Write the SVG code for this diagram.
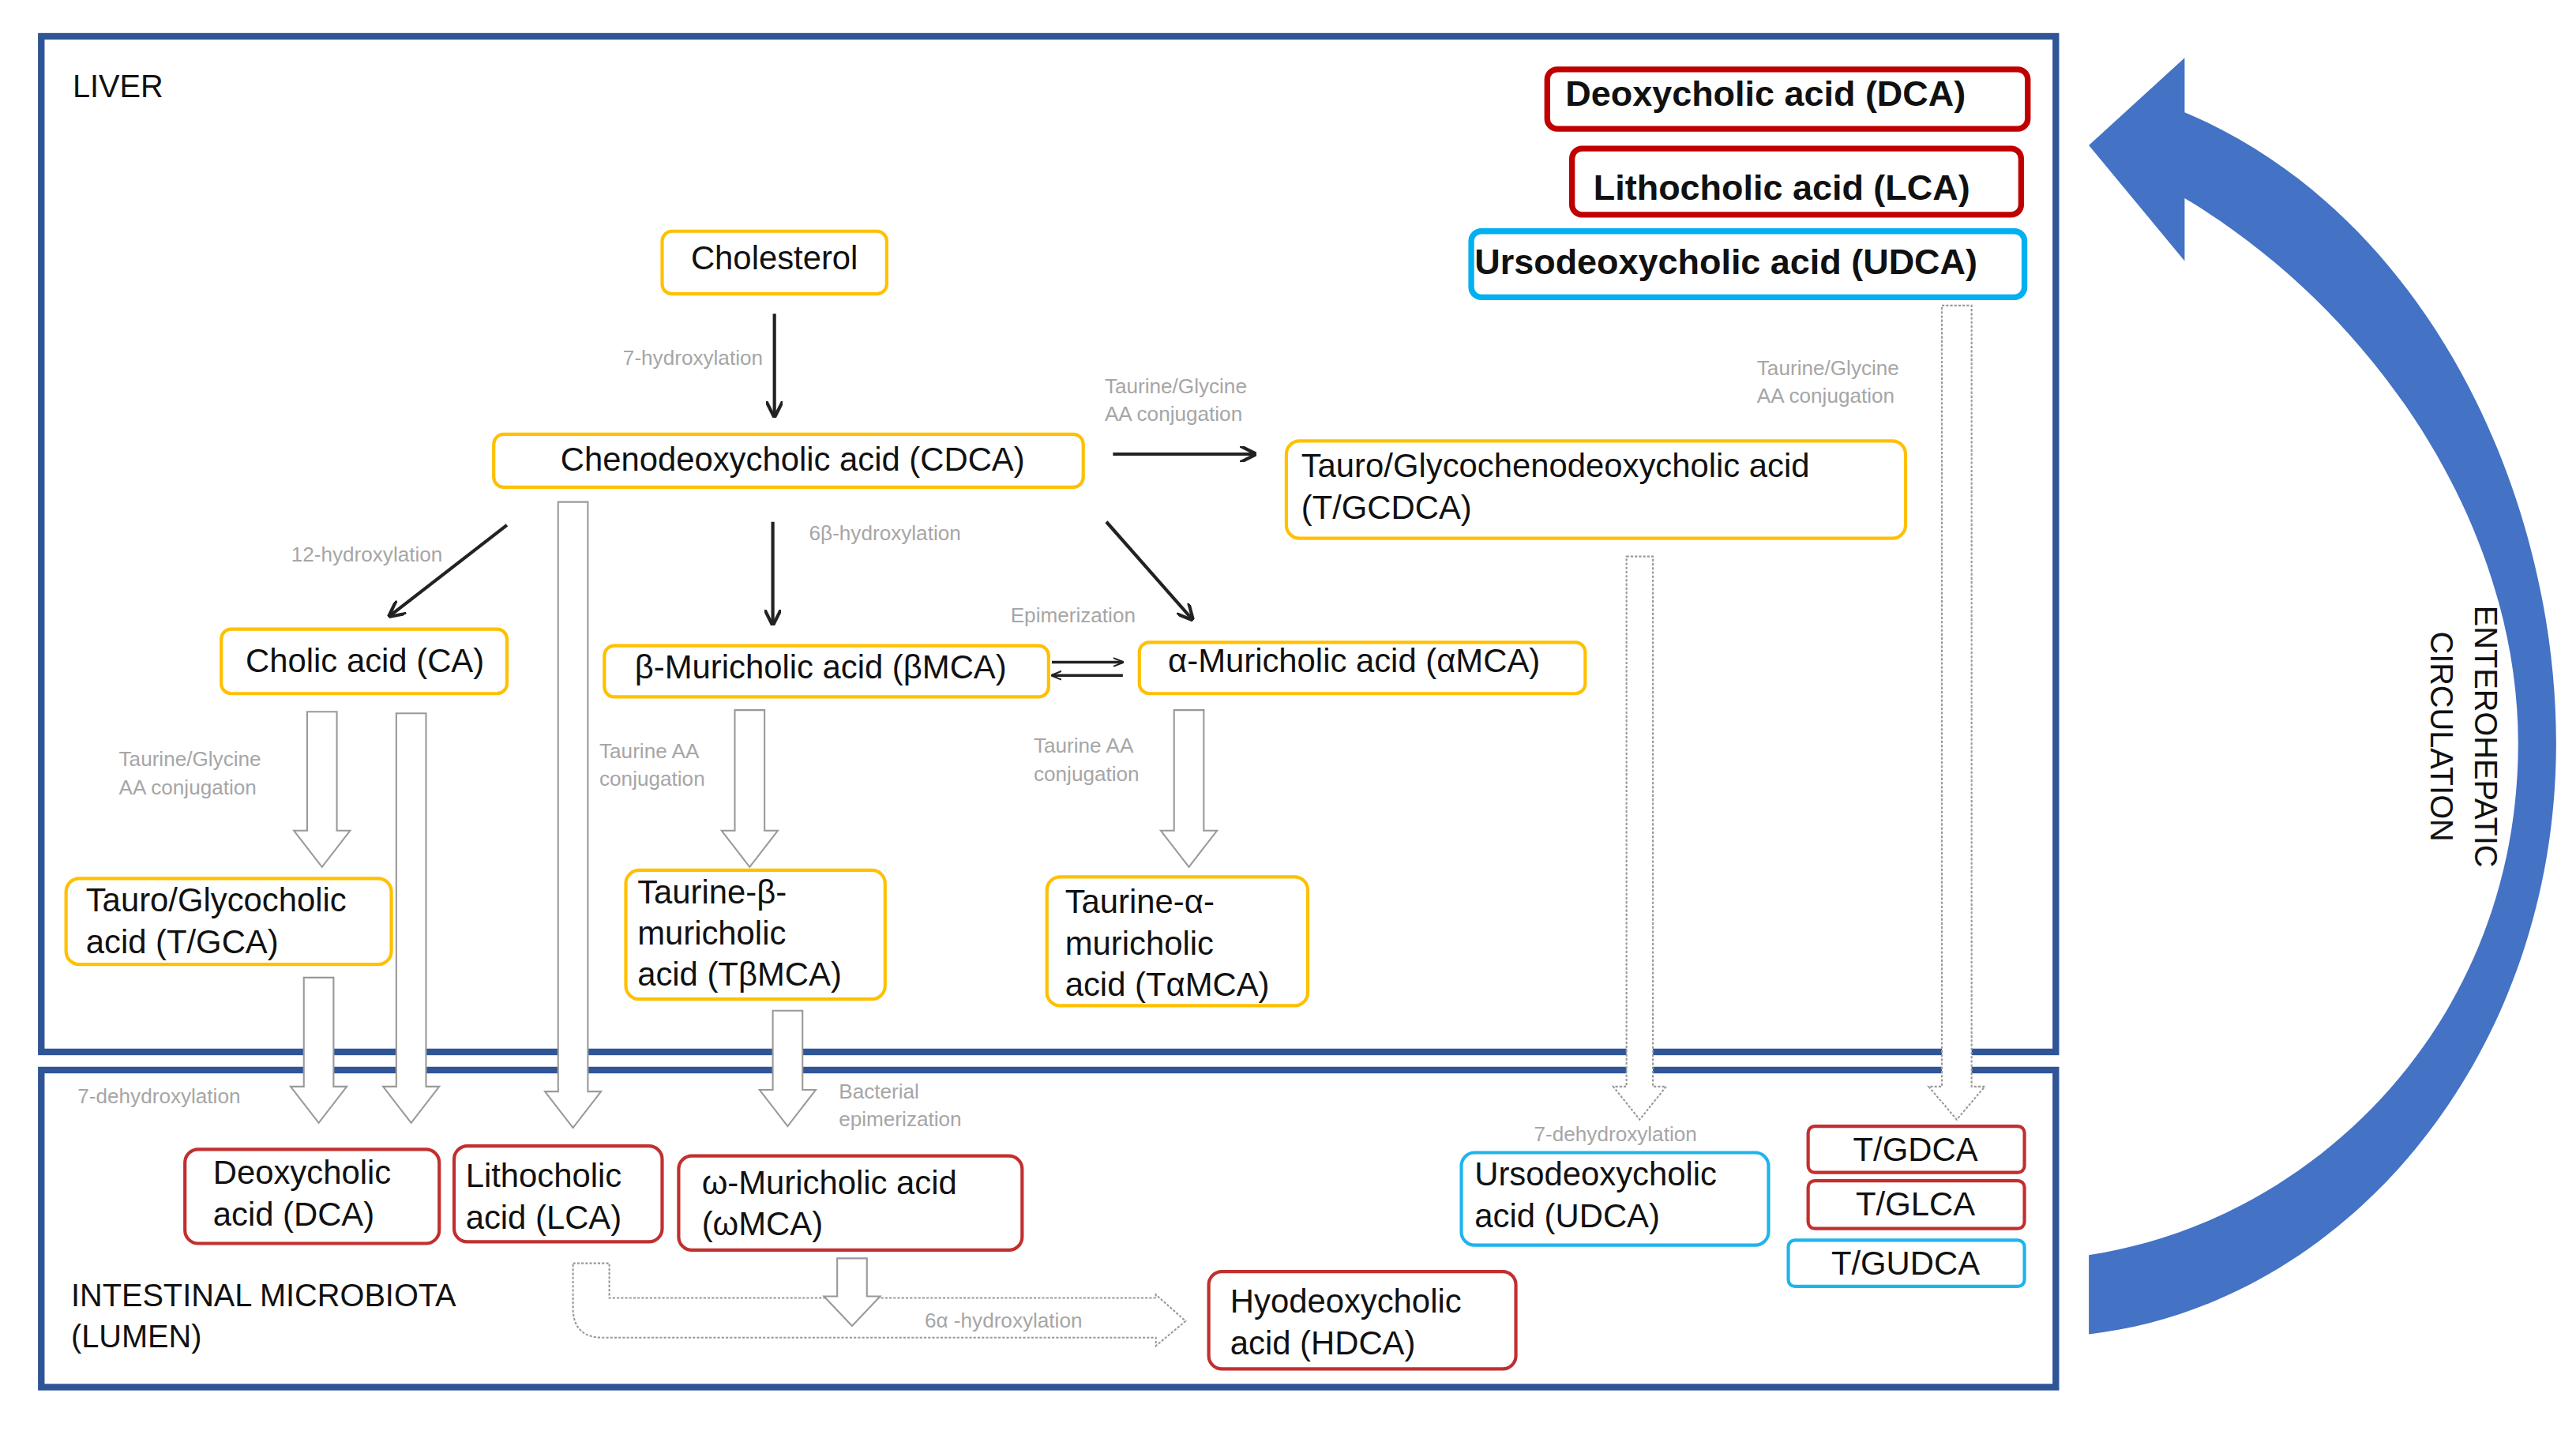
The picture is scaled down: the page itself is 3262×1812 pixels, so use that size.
<svg xmlns="http://www.w3.org/2000/svg" width="3262" height="1812" viewBox="0 0 3262 1812">
<style>
text{font-family:"Liberation Sans",Arial,sans-serif;fill:#111}
.n{font-size:20px}
.b{font-size:21.5px;font-weight:bold}
.l{font-size:12.5px;fill:#A6A6A6}
.y{fill:#fff;stroke:#FFC000;stroke-width:2}
.r{fill:#fff;stroke:#C0302F;stroke-width:2}
.c{fill:#fff;stroke:#1EB4EC;stroke-width:2}
.rb{fill:#fff;stroke:#C00000;stroke-width:3.5}
.cb{fill:#fff;stroke:#00B0F0;stroke-width:3.5}
.frame{fill:none;stroke:#2F5597;stroke-width:4}
.h{fill:#fff;stroke:#999;stroke-width:1}
.hd{fill:#fff;stroke:#999;stroke-width:1;stroke-dasharray:1.5 1}
.k{stroke:#222;stroke-width:2;fill:none;marker-end:url(#ah)}
</style>
<defs>
<marker id="ah" viewBox="0 0 10 10" refX="9" refY="5" markerWidth="5" markerHeight="5" orient="auto"><path d="M0,0 L10,5 L0,10" fill="none" stroke="#222" stroke-width="2"/></marker>
<marker id="ah2" viewBox="0 0 10 10" refX="9" refY="5" markerWidth="4" markerHeight="4" orient="auto"><path d="M0,1 L10,5 L0,9" fill="none" stroke="#222" stroke-width="1.6"/></marker>
</defs>
<rect width="3262" height="1812" fill="#fff"/>
<g transform="scale(2.091)">
<g id="frames">
<rect class="frame" x="25" y="22" width="1220" height="615"/>
<rect class="frame" x="25" y="648" width="1220" height="192"/>
<text x="44" y="59" style="font-size:19px">LIVER</text>
<text x="43" y="791" style="font-size:19px">INTESTINAL MICROBIOTA</text>
<text x="43" y="816" style="font-size:19px">(LUMEN)</text>
</g>
<g id="circulation">
<path d="M1265,88 L1323,35 L1323,68 C1470,130 1548,300 1548,450 C1548,640 1420,790 1265,808 L1265,760 C1400,740 1525,620 1525,450 C1525,320 1440,190 1323,120 L1323,158 Z" fill="#4472C4"/>
<g transform="translate(1495,446) rotate(90)"><text x="0" y="-4" text-anchor="middle" style="font-size:19px">ENTEROHEPATIC</text><text x="0" y="23" text-anchor="middle" style="font-size:19px">CIRCULATION</text></g>
</g>
<g id="connectors">
<line class="k" x1="469" y1="190" x2="469" y2="252"/>
<line class="k" x1="674" y1="275" x2="760" y2="275"/>
<line class="k" x1="307" y1="318" x2="236" y2="373"/>
<line class="k" x1="468" y1="316" x2="468" y2="378"/>
<line class="k" x1="670" y1="316" x2="722" y2="375"/>
<line x1="637" y1="401" x2="680" y2="401" stroke="#222" stroke-width="1.6" marker-end="url(#ah2)"/>
<line x1="680" y1="409" x2="637" y2="409" stroke="#222" stroke-width="1.6" marker-end="url(#ah2)"/>
<path class="h" d="M186,431 L204,431 L204,503 L212,503 L195,525 L178,503 L186,503 Z"/>
<path class="h" d="M240,432 L258,432 L258,658 L266,658 L249,680 L232,658 L240,658 Z"/>
<path class="h" d="M184,592 L202,592 L202,658 L210,658 L193,680 L176,658 L184,658 Z"/>
<path class="h" d="M338,304 L356,304 L356,661 L364,661 L347,683 L330,661 L338,661 Z"/>
<path class="h" d="M445,430 L463,430 L463,503 L471,503 L454,525 L437,503 L445,503 Z"/>
<path class="h" d="M711,430 L729,430 L729,503 L737,503 L720,525 L703,503 L711,503 Z"/>
<path class="h" d="M468,612 L486,612 L486,660 L494,660 L477,682 L460,660 L468,660 Z"/>
<path class="hd" d="M985,337 L1001,337 L1001,658 L1009,658 L993,678 L977,658 L985,658 Z"/>
<path class="hd" d="M1176,185 L1194,185 L1194,658 L1202,658 L1185,678 L1168,658 L1176,658 Z"/>
<path class="hd" d="M347,765 L369,765 L369,786 L700,786 L700,784 L718,800 L700,815 L700,810 L365,810 Q347,810 347,792 Z"/>
<path class="h" d="M507,762 L525,762 L525,785 L533,785 L516,803 L499,785 L507,785 Z"/>
<text class="l" x="462" y="221" text-anchor="end">7-hydroxylation</text>
<text class="l" x="669" y="238">Taurine/Glycine</text>
<text class="l" x="669" y="255">AA conjugation</text>
<text class="l" x="268" y="340" text-anchor="end">12-hydroxylation</text>
<text class="l" x="490" y="327">6β-hydroxylation</text>
<text class="l" x="612" y="377">Epimerization</text>
<text class="l" x="72" y="464">Taurine/Glycine</text>
<text class="l" x="72" y="481">AA conjugation</text>
<text class="l" x="363" y="459">Taurine AA</text>
<text class="l" x="363" y="476">conjugation</text>
<text class="l" x="626" y="456">Taurine AA</text>
<text class="l" x="626" y="473">conjugation</text>
<text class="l" x="1064" y="227">Taurine/Glycine</text>
<text class="l" x="1064" y="244">AA conjugation</text>
<text class="l" x="47" y="668">7-dehydroxylation</text>
<text class="l" x="508" y="665">Bacterial</text>
<text class="l" x="508" y="682">epimerization</text>
<text class="l" x="929" y="691">7-dehydroxylation</text>
<text class="l" x="560" y="804">6α -hydroxylation</text>
</g>
<g id="n-dca-top"><rect class="rb" x="937" y="42" width="291" height="36" rx="6"/><text class="b" x="948" y="64">Deoxycholic acid (DCA)</text></g>
<g id="n-lca-top"><rect class="rb" x="952" y="90" width="272" height="40" rx="6"/><text class="b" x="965" y="121">Lithocholic acid (LCA)</text></g>
<g id="n-udca-top"><rect class="cb" x="891" y="140" width="335" height="40" rx="6"/><text class="b" x="893" y="166">Ursodeoxycholic acid (UDCA)</text></g>
<g id="n-chol"><rect class="y" x="401" y="140" width="136" height="38" rx="6"/><text class="n" x="469" y="163" text-anchor="middle">Cholesterol</text></g>
<g id="n-cdca"><rect class="y" x="299" y="263" width="357" height="32" rx="6"/><text class="n" x="480" y="285" text-anchor="middle">Chenodeoxycholic acid (CDCA)</text></g>
<g id="n-tgcdca"><rect class="y" x="779" y="267" width="375" height="59" rx="8"/><text class="n" x="788" y="289">Tauro/Glycochenodeoxycholic acid</text><text class="n" x="788" y="314">(T/GCDCA)</text></g>
<g id="n-ca"><rect class="y" x="134" y="381" width="173" height="39" rx="6"/><text class="n" x="221" y="407" text-anchor="middle">Cholic acid (CA)</text></g>
<g id="n-bmca"><rect class="y" x="366" y="391" width="269" height="31" rx="6"/><text class="n" x="497" y="411" text-anchor="middle">β-Muricholic acid (βMCA)</text></g>
<g id="n-amca"><rect class="y" x="690" y="389" width="270" height="31" rx="6"/><text class="n" x="820" y="407" text-anchor="middle">α-Muricholic acid (αMCA)</text></g>
<g id="n-tgca"><rect class="y" x="40" y="532" width="197" height="52" rx="8"/><text class="n" x="52" y="552">Tauro/Glycocholic</text><text class="n" x="52" y="577">acid (T/GCA)</text></g>
<g id="n-tbmca"><rect class="y" x="379" y="527" width="157" height="78" rx="8"/><text class="n" x="386" y="547">Taurine-β-</text><text class="n" x="386" y="572">muricholic</text><text class="n" x="386" y="597">acid (TβMCA)</text></g>
<g id="n-tamca"><rect class="y" x="634" y="531" width="158" height="78" rx="8"/><text class="n" x="645" y="553">Taurine-α-</text><text class="n" x="645" y="578">muricholic</text><text class="n" x="645" y="603">acid (TαMCA)</text></g>
<g id="n-dca"><rect class="r" x="112" y="696" width="154" height="57" rx="8"/><text class="n" x="129" y="717">Deoxycholic</text><text class="n" x="129" y="742">acid (DCA)</text></g>
<g id="n-lca"><rect class="r" x="275" y="694" width="126" height="58" rx="8"/><text class="n" x="282" y="719">Lithocholic</text><text class="n" x="282" y="744">acid (LCA)</text></g>
<g id="n-wmca"><rect class="r" x="411" y="700" width="208" height="57" rx="8"/><text class="n" x="425" y="723">ω-Muricholic acid</text><text class="n" x="425" y="748">(ωMCA)</text></g>
<g id="n-hdca"><rect class="r" x="732" y="770" width="186" height="59" rx="8"/><text class="n" x="745" y="795">Hyodeoxycholic</text><text class="n" x="745" y="820">acid (HDCA)</text></g>
<g id="n-udca"><rect class="c" x="885" y="698" width="186" height="56" rx="8"/><text class="n" x="893" y="718">Ursodeoxycholic</text><text class="n" x="893" y="743">acid (UDCA)</text></g>
<g id="n-tgdca"><rect class="r" x="1095" y="682" width="131" height="28" rx="4"/><text class="n" x="1160" y="703" text-anchor="middle">T/GDCA</text></g>
<g id="n-tglca"><rect class="r" x="1095" y="715" width="131" height="29" rx="4"/><text class="n" x="1160" y="736" text-anchor="middle">T/GLCA</text></g>
<g id="n-tgudca"><rect class="c" x="1083" y="751" width="143" height="28" rx="4"/><text class="n" x="1154" y="772" text-anchor="middle">T/GUDCA</text></g>
</g>
</svg>
